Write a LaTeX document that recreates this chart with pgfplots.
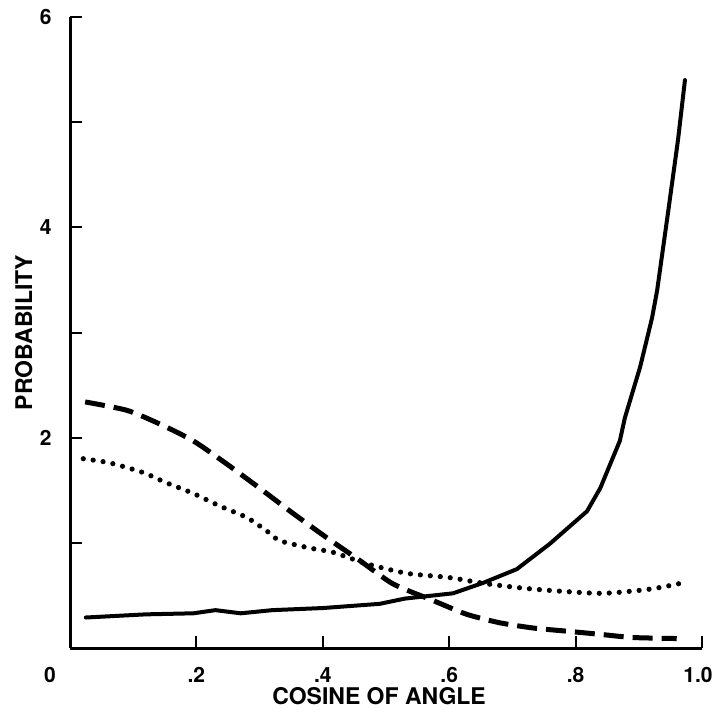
\documentclass[border=0pt]{standalone}
\usepackage{pgfplots}
\pgfplotsset{compat=1.18}
\usepackage{fontspec}
\setmainfont{TeX Gyre Heros}
\begin{document}
\begin{tikzpicture}
\begin{axis}[
  scale only axis, width=316pt, height=315.5pt,
  xmin=0, xmax=1, ymin=0, ymax=6,
  axis lines=left, axis line style={-, line width=1.5pt},
  tick align=inside, major tick length=6pt,
  tick style={line width=1pt, black},
  xtick={0,0.2,0.4,0.6,0.8,1.0},
  xticklabels={\makebox[0pt]{0\hspace{20pt}},.2,.4,.6,.8,\makebox[0pt]{1.0\hspace{4pt}}},
  ytick={1,2,3,4,5,6},
  yticklabels={,2,,4,,6},
  ticklabel style={font=\fontsize{10.5}{12}\selectfont\bfseries, inner sep=0pt},
  xticklabel style={anchor=north, yshift=-9.5pt},
  yticklabel style={anchor=east, xshift=-9pt},
  xlabel={COSINE OF ANGLE}, ylabel={PROBABILITY},
  label style={font=\fontsize{11.5}{13}\selectfont\bfseries, inner sep=0pt},
  xlabel style={at={(axis description cs:0.489,-0.062)}, anchor=north},
  ylabel style={at={(axis description cs:-0.073,0.5)}, anchor=center},
  clip=false,
]
\addplot[black, line width=2pt, line join=round, line cap=round] coordinates {
(0.025,0.29) (0.12,0.32) (0.195,0.33) (0.23,0.36) (0.27,0.33) (0.32,0.36)
(0.40,0.38) (0.49,0.42) (0.53,0.47) (0.606,0.52) (0.654,0.62) (0.707,0.75)
(0.759,0.99) (0.818,1.30) (0.839,1.52) (0.870,1.97) (0.878,2.19) (0.902,2.67)
(0.921,3.14) (0.929,3.40) (0.946,4.13) (0.962,4.83) (0.973,5.40)
};
\addplot[black, line width=2.5pt, dash pattern=on 10pt off 4.5pt, smooth, tension=0.4] coordinates {
(0.024,2.34) (0.09,2.26) (0.142,2.13) (0.195,1.97) (0.248,1.75) (0.30,1.52)
(0.353,1.28) (0.406,1.05) (0.459,0.83) (0.511,0.61) (0.575,0.45) (0.628,0.32)
(0.68,0.24) (0.733,0.19) (0.786,0.16) (0.839,0.13) (0.89,0.10) (0.96,0.09)
};
\addplot[black, line width=2.6pt, line cap=round, dash pattern=on 0pt off 5pt, smooth, tension=0.4] coordinates {
(0.021,1.80) (0.063,1.76) (0.115,1.67) (0.153,1.57) (0.195,1.47) (0.237,1.35)
(0.28,1.24) (0.312,1.11) (0.332,1.02) (0.38,0.95) (0.416,0.91) (0.47,0.80)
(0.533,0.71) (0.60,0.67) (0.66,0.61) (0.733,0.56) (0.839,0.52) (0.918,0.56)
(0.97,0.62)
};
\end{axis}
\pgfresetboundingbox
\path (-35pt,-32.5pt) rectangle (322.5pt,324pt);
\end{tikzpicture}
\end{document}
